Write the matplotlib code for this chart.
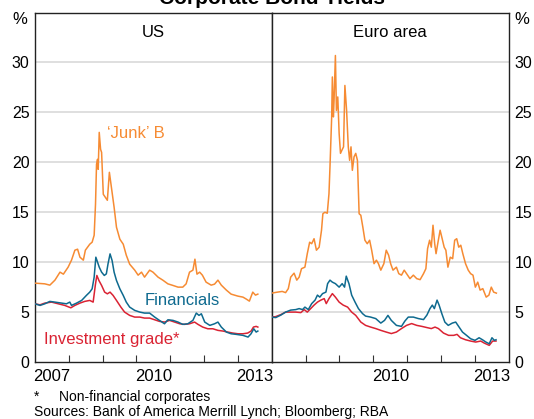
import matplotlib
matplotlib.use("Agg")
import matplotlib.pyplot as plt

# =============================================================================
# DATA (decimal years / per cent)
# =============================================================================
us_junk_t = [2007.00, 2007.29, 2007.44, 2007.59, 2007.74, 2007.84, 2007.98, 2008.08, 2008.18, 2008.26,
             2008.33, 2008.43, 2008.49, 2008.62, 2008.69, 2008.75, 2008.79, 2008.82, 2008.85, 2008.87,
             2008.90, 2008.94, 2008.97, 2009.02, 2009.08, 2009.14, 2009.20, 2009.26, 2009.34, 2009.41,
             2009.51, 2009.61, 2009.70, 2009.80, 2009.95, 2010.05, 2010.15, 2010.24, 2010.39,
             2010.49, 2010.64, 2010.78, 2010.93, 2011.08, 2011.23, 2011.37, 2011.47, 2011.57, 2011.67,
             2011.73, 2011.79, 2011.87, 2011.95, 2012.06, 2012.21, 2012.31, 2012.41, 2012.51, 2012.66,
             2012.80, 2013.00, 2013.15, 2013.25, 2013.34, 2013.44, 2013.52, 2013.59]
us_junk = [7.9, 7.83, 7.7, 8.2, 9.0, 8.8, 9.5, 10.2, 11.2, 11.3,
           10.5, 10.2, 11.2, 11.8, 12.0, 12.7, 15.8, 19.8, 20.3, 19.3,
           23.0, 21.3, 21.0, 16.8, 16.5, 16.2, 19.0, 17.5, 15.5, 13.5,
           12.3, 11.8, 10.7, 9.8, 9.2, 8.7, 9.0, 8.5, 9.2,
           9.0, 8.5, 8.2, 7.83, 7.67, 7.5, 7.5, 7.83, 9.0, 9.2,
           10.3, 8.8, 9.0, 8.7, 8.0, 7.7, 7.8, 8.2, 7.7, 7.2,
           6.8, 6.6, 6.5, 6.3, 6.1, 7.0, 6.7, 6.8]

us_fin_t = [2007.00, 2007.15, 2007.29, 2007.44, 2007.59, 2007.79, 2007.93, 2008.03, 2008.08, 2008.23,
            2008.38, 2008.52, 2008.62, 2008.69, 2008.75, 2008.80, 2008.85, 2008.90, 2008.97, 2009.05,
            2009.11, 2009.16, 2009.22, 2009.28, 2009.34, 2009.41, 2009.51, 2009.61, 2009.70, 2009.80,
            2009.95, 2010.10, 2010.24, 2010.39,
            2010.54, 2010.68, 2010.83, 2010.93, 2011.08, 2011.23, 2011.37, 2011.52, 2011.67, 2011.77,
            2011.85, 2011.92, 2012.02, 2012.17, 2012.31, 2012.41, 2012.51, 2012.66, 2012.80, 2012.95,
            2013.15, 2013.30, 2013.39, 2013.47, 2013.54, 2013.59]
us_fin = [5.83, 5.67, 5.83, 6.07, 6.0, 5.9, 5.83, 6.0, 5.67, 5.9,
          6.17, 6.67, 7.0, 7.33, 8.5, 10.5, 10.0, 9.5, 9.0, 8.67,
          8.83, 9.83, 10.83, 10.17, 9.0, 8.17, 7.33, 6.67, 6.0, 5.5,
          5.17, 5.0, 4.9, 4.9,
          4.5, 4.17, 3.83, 4.23, 4.17, 4.0, 3.77, 3.83, 4.17, 4.9,
          4.67, 4.83, 4.0, 3.67, 3.83, 4.0, 3.5, 3.0, 2.83, 2.77,
          2.67, 2.5, 2.83, 3.33, 3.0, 3.1]

us_ig_t = [2007.00, 2007.15, 2007.29, 2007.49, 2007.69, 2007.88, 2008.06, 2008.18, 2008.33, 2008.47,
           2008.62, 2008.72, 2008.79, 2008.83, 2008.89, 2008.97, 2009.06, 2009.14, 2009.22, 2009.31,
           2009.41, 2009.54, 2009.65, 2009.80, 2009.95, 2010.10, 2010.24, 2010.39,
           2010.54, 2010.68, 2010.83, 2010.98, 2011.13, 2011.28, 2011.42, 2011.57, 2011.72, 2011.82,
           2011.96, 2012.11, 2012.26, 2012.41, 2012.56, 2012.70, 2012.85, 2013.00, 2013.15, 2013.29,
           2013.39, 2013.46, 2013.54, 2013.59]
us_ig = [5.83, 5.73, 5.9, 6.0, 5.83, 5.67, 5.43, 5.67, 5.9, 6.07,
         6.17, 6.0, 7.83, 8.67, 8.17, 7.67, 7.0, 6.83, 7.0, 6.67,
         6.17, 5.5, 5.0, 4.67, 4.5, 4.5, 4.4, 4.4,
         4.23, 4.07, 4.0, 4.17, 4.0, 3.83, 3.77, 3.83, 4.0, 3.77,
         3.5, 3.33, 3.33, 3.17, 3.1, 3.0, 2.9, 2.83, 2.83, 2.9,
         3.1, 3.5, 3.57, 3.5]

eu_junk_t = [2007.00, 2007.17, 2007.31, 2007.41, 2007.49, 2007.56, 2007.66, 2007.74, 2007.81, 2007.88,
             2007.98, 2008.05, 2008.12, 2008.18, 2008.25, 2008.32, 2008.40, 2008.47, 2008.51, 2008.57,
             2008.64, 2008.69, 2008.72, 2008.77, 2008.79, 2008.82, 2008.84, 2008.88, 2008.91, 2008.95,
             2008.99, 2009.03, 2009.07, 2009.12, 2009.16, 2009.21, 2009.26, 2009.30, 2009.34, 2009.38,
             2009.43, 2009.48, 2009.53, 2009.58, 2009.63, 2009.69, 2009.75, 2009.82, 2009.89, 2009.95,
             2010.02, 2010.09, 2010.15, 2010.22,
             2010.31, 2010.38, 2010.45, 2010.51, 2010.58, 2010.68, 2010.75, 2010.83, 2010.91, 2010.98,
             2011.08, 2011.18, 2011.28, 2011.38, 2011.48, 2011.55, 2011.60, 2011.66, 2011.71, 2011.76,
             2011.81, 2011.85, 2011.90, 2011.97, 2012.02, 2012.09, 2012.14, 2012.20, 2012.27, 2012.34,
             2012.40, 2012.46, 2012.52, 2012.58, 2012.64, 2012.72, 2012.80, 2012.87, 2012.94, 2013.01,
             2013.08, 2013.15, 2013.23, 2013.33, 2013.41, 2013.48, 2013.55, 2013.63]
eu_junk = [6.9, 7.0, 7.07, 6.95, 7.35, 8.5, 8.9, 8.2, 8.5, 9.35,
           9.5, 10.85, 12.0, 11.85, 12.35, 11.2, 11.5, 13.2, 14.85, 15.0,
           14.9, 16.85, 19.55, 24.55, 28.55, 24.55, 26.2, 30.7, 25.2, 26.55,
           22.9, 20.9, 21.2, 21.55, 27.7, 25.2, 21.55, 20.2, 21.55, 19.2,
           20.55, 20.9, 20.2, 14.85, 14.7, 13.5, 12.2, 11.85, 12.2, 11.2,
           9.85, 10.2, 9.85, 9.2,
           9.85, 11.2, 10.7, 9.85, 9.2, 9.5, 8.85, 8.7, 9.2, 8.85,
           8.35, 8.7, 8.35, 8.25, 8.85, 9.35, 11.35, 12.2, 11.5, 13.7,
           11.85, 10.85, 11.85, 13.2, 12.5, 11.5, 11.2, 9.5, 10.5, 10.35,
           12.2, 12.35, 11.5, 11.7, 10.85, 9.85, 9.2, 8.85, 8.7, 7.5,
           8.0, 7.2, 7.35, 6.5, 6.7, 7.5, 7.0, 6.9]

eu_fin_t = [2007.00, 2007.12, 2007.27, 2007.41, 2007.56, 2007.71, 2007.81, 2007.91, 2007.98, 2008.08,
            2008.18, 2008.28, 2008.35, 2008.42, 2008.50, 2008.60, 2008.65, 2008.72, 2008.79, 2008.88,
            2008.99, 2009.08, 2009.15, 2009.20, 2009.28, 2009.36, 2009.46, 2009.56, 2009.68, 2009.77,
            2009.92, 2010.07, 2010.22,
            2010.33, 2010.43, 2010.53, 2010.68, 2010.83, 2010.93, 2011.03, 2011.18, 2011.33, 2011.48,
            2011.58, 2011.67, 2011.74, 2011.80, 2011.88, 2011.94, 2012.02, 2012.11, 2012.21, 2012.33,
            2012.43, 2012.53, 2012.63, 2012.75, 2012.87, 2013.00, 2013.12, 2013.22, 2013.32, 2013.42,
            2013.50, 2013.57, 2013.62]
eu_fin = [4.5, 4.45, 4.7, 5.0, 5.2, 5.25, 5.35, 5.25, 5.5, 5.25,
          5.85, 6.2, 6.7, 6.5, 6.85, 7.0, 7.85, 8.2, 8.0, 7.85,
          7.5, 7.85, 7.5, 8.6, 7.85, 6.7, 6.0, 5.35, 4.85, 4.6,
          4.5, 4.35, 3.9,
          4.17, 4.67, 4.17, 3.67, 3.57, 4.1, 4.5, 4.5, 4.35, 4.25,
          4.7, 5.35, 5.7, 5.35, 6.2, 5.7, 4.85, 4.0, 3.67, 3.9,
          4.0, 3.5, 3.0, 2.67, 2.33, 2.17, 2.43, 2.23, 2.0, 1.83,
          2.43, 2.17, 2.23]

eu_ig_t = [2007.00, 2007.12, 2007.27, 2007.41, 2007.56, 2007.71, 2007.86, 2007.96, 2008.05, 2008.15,
           2008.25, 2008.35, 2008.45, 2008.55, 2008.61, 2008.69, 2008.79, 2008.88, 2008.99, 2009.11,
           2009.24, 2009.36, 2009.48, 2009.63, 2009.77, 2009.92, 2010.07, 2010.22,
           2010.38, 2010.53, 2010.68, 2010.83, 2010.98, 2011.13, 2011.28, 2011.43, 2011.58, 2011.71,
           2011.82, 2011.92, 2012.07, 2012.22, 2012.37, 2012.47, 2012.57, 2012.72, 2012.87, 2013.02,
           2013.17, 2013.27, 2013.42, 2013.52, 2013.62]
eu_ig = [4.5, 4.55, 4.75, 5.0, 5.0, 5.0, 4.95, 5.25, 5.0, 5.35,
         5.7, 6.0, 6.2, 6.35, 5.85, 6.35, 6.85, 6.5, 6.0, 5.7,
         5.5, 5.0, 4.67, 4.0, 3.67, 3.5, 3.35, 3.17,
         3.0, 2.85, 3.0, 3.35, 3.67, 3.85, 3.67, 3.57, 3.45, 3.35,
         3.5, 3.35, 2.9, 2.67, 2.67, 2.77, 2.43, 2.23, 2.1, 2.0,
         2.1, 1.9, 1.67, 2.1, 2.1]

y_ticks = [0, 5, 10, 15, 20, 25, 30]
year_ticks = [2008, 2009, 2010, 2011, 2012, 2013]
us_year_labels = ["2007", "2010", "2013"]
eu_year_labels = ["2010", "2013"]

ORANGE = "#F68B33"
BLUE = "#0E6A8F"
RED = "#DA2333"
GRID = "#D9D9D9"

plt.rcParams["font.family"] = ["Liberation Sans", "DejaVu Sans"]

# =============================================================================
# FIGURE
# =============================================================================
fig = plt.figure(figsize=(5.34, 4.19), dpi=100)
ax_us = fig.add_axes([0.0655, 0.136, 0.4433, 0.834])
ax_eu = fig.add_axes([0.5088, 0.136, 0.4442, 0.834])

ax_us.plot(us_junk_t, us_junk, color=ORANGE, lw=1.1, zorder=3)
ax_us.plot(us_fin_t, us_fin, color=BLUE, lw=1.1, zorder=4)
ax_us.plot(us_ig_t, us_ig, color=RED, lw=1.1, zorder=3)

ax_eu.plot(eu_junk_t, eu_junk, color=ORANGE, lw=1.1, zorder=3)
ax_eu.plot(eu_fin_t, eu_fin, color=BLUE, lw=1.1, zorder=4)
ax_eu.plot(eu_ig_t, eu_ig, color=RED, lw=1.1, zorder=3)

for ax, labels in [(ax_us, us_year_labels), (ax_eu, eu_year_labels)]:
    ax.set_xlim(2007, 2014)
    ax.set_ylim(0, 35)
    for v in y_ticks[1:]:
        ax.axhline(v, color=GRID, lw=1.2, zorder=1)
    ax.set_xticks(year_ticks)
    ax.set_xticklabels([])
    ax.set_xticks([int(s) + 0.5 for s in labels], minor=True)
    ax.set_xticklabels(labels, minor=True, fontsize=12)
    ax.tick_params(axis="x", which="major", direction="in", length=5, width=0.8, color="#333333")
    ax.tick_params(axis="x", which="minor", length=0, pad=5)
    ax.set_yticks(y_ticks)
    ax.tick_params(axis="y", length=0, labelsize=11.5, pad=4)
    for sp in ax.spines.values():
        sp.set_color("#222222")
        sp.set_linewidth(1.0)

ax_eu.yaxis.tick_right()

ax_us.text(0.5, 0.943, "US", transform=ax_us.transAxes, ha="center", va="center", fontsize=12)
ax_eu.text(0.5, 0.943, "Euro area", transform=ax_eu.transAxes, ha="center", va="center", fontsize=12)

ax_us.text(2009.13, 22.9, "\u2018Junk\u2019 B", color=ORANGE, fontsize=12, ha="left", va="center")
ax_us.text(2010.25, 6.2, "Financials", color=BLUE, fontsize=12, ha="left", va="center")
ax_us.text(2007.27, 2.3, "Investment grade*", color=RED, fontsize=12, ha="left", va="center")

fig.text(20 / 534, 1 - 20 / 419, "%", fontsize=12, ha="center", va="center")
fig.text(522 / 534, 1 - 20 / 419, "%", fontsize=12, ha="center", va="center")

fig.text(0.51, 1 - 4.5 / 419, "Corporate Bond Yields", fontsize=15, fontweight="bold",
         ha="center", va="baseline")

fig.text(34 / 534, 1 - 396.7 / 419, "*", fontsize=10, ha="left", va="center")
fig.text(59 / 534, 1 - 396.7 / 419, "Non-financial corporates", fontsize=10, ha="left", va="center")
fig.text(34 / 534, 1 - 411.7 / 419, "Sources: Bank of America Merrill Lynch; Bloomberg; RBA",
         fontsize=10, ha="left", va="center")

fig.savefig("out.png", dpi=100)
